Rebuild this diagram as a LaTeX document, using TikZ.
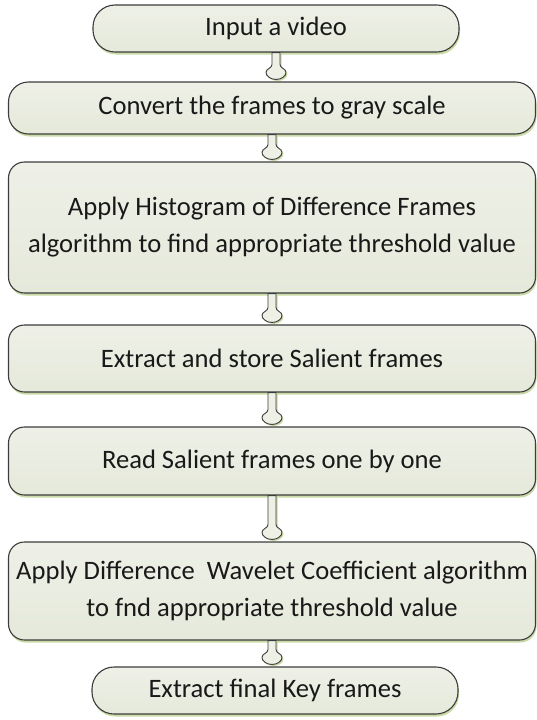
\documentclass[tikz,border=0pt]{standalone}
\usepackage{fontspec}
\setmainfont{Carlito}
\usetikzlibrary{shadows,calc}
\definecolor{boxtop}{HTML}{EEF0E7}
\definecolor{boxbot}{HTML}{E5E9DA}
\definecolor{edge}{HTML}{3C3C3C}
\definecolor{shadowgreen}{HTML}{C9DAA6}
\definecolor{arrowfill}{HTML}{EEF0E6}
\tikzset{
  stepbox/.style={draw=edge, line width=1.1pt, top color=boxtop, bottom color=boxbot,
    rounded corners=16pt, minimum width=527pt, inner sep=0pt, align=center,
    font=\fontsize{26.6}{37}\selectfont, text=black!90,
    general shadow={shadow xshift=1pt, shadow yshift=-2.5pt, fill=shadowgreen}},
  pillbox/.style={stepbox, rounded corners=22pt, minimum width=366pt},
  arrowshape/.style={draw=edge, line width=0.9pt, fill=arrowfill,
    general shadow={shadow xshift=1.5pt, shadow yshift=-1.5pt, fill=shadowgreen}}
}
\newcommand\flowarrow[2]{%
  \path[arrowshape] let \p1=(#1.south), \p2=($(#2.north)+(0pt,2pt)$) in
    (\x1-4pt,\y1) -- (\x1-4pt,\y2+15pt)
    .. controls (\x1-4pt,\y2+11pt) and (\x1-10pt,\y2+11pt) .. (\x1-10pt,\y2+7pt)
    .. controls (\x1-10pt,\y2+3pt) and (\x1-5pt,\y2) .. (\x1,\y2)
    .. controls (\x1+5pt,\y2) and (\x1+10pt,\y2+3pt) .. (\x1+10pt,\y2+7pt)
    .. controls (\x1+10pt,\y2+11pt) and (\x1+4pt,\y2+11pt) .. (\x1+4pt,\y2+15pt)
    -- (\x1+4pt,\y1) -- cycle;}
\begin{document}
\begin{tikzpicture}[x=1pt,y=-1pt]
\useasboundingbox (0,0) rectangle (537,720);
\node[pillbox, minimum height=47pt] (n1) at (276,28.5) {Input a video};
\node[stepbox, rounded corners=20pt, minimum height=52pt] (n2) at (272,108) {Convert the frames to gray scale};
\node[stepbox, minimum height=131pt] (n3) at (272,227.5) {Apply Histogram of Difference Frames\\algorithm to find appropriate threshold value};
\node[stepbox, minimum height=67pt] (n4) at (272,358.5) {Extract and store Salient frames};
\node[stepbox, minimum height=68pt] (n5) at (272,461) {Read Salient frames one by one};
\node[stepbox, minimum height=98pt] (n6) at (272,591) {Apply Difference\ \ Wavelet Coefficient algorithm\\to fnd appropriate threshold value};
\node[pillbox, minimum height=47pt] (n7) at (275,690.5) {Extract final Key frames};
\flowarrow{n1}{n2}
\flowarrow{n2}{n3}
\flowarrow{n3}{n4}
\flowarrow{n4}{n5}
\flowarrow{n5}{n6}
\flowarrow{n6}{n7}
\end{tikzpicture}
\end{document}
